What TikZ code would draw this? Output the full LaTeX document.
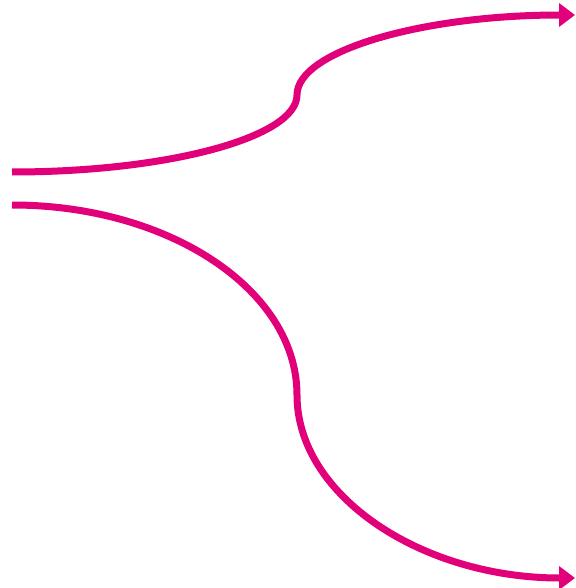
\documentclass[tikz,border=0pt]{standalone}
\usetikzlibrary{arrows.meta}
\definecolor{mag}{RGB}{226,0,122}
\tikzset{flow/.style={draw=mag,line width=7pt,-{Triangle[length=16pt,width=23pt]}}}
\begin{document}
\begin{tikzpicture}[x=1pt,y=-1pt]
\useasboundingbox (0,0) rectangle (575,588);
\coordinate (s1) at (12,172);
\coordinate (m1) at (297,95);
\coordinate (e1) at (575,15);
\coordinate (s2) at (12,205);
\coordinate (m2) at (297,395);
\coordinate (e2) at (575,578);
\draw[flow] (s1) .. controls (169,172) and (297,137) .. (m1)
  .. controls (297,51) and (422,15) .. (e1);
\draw[flow] (s2) .. controls (169,205) and (297,290) .. (m2)
  .. controls (297,496) and (422,578) .. (e2);
\end{tikzpicture}
\end{document}
